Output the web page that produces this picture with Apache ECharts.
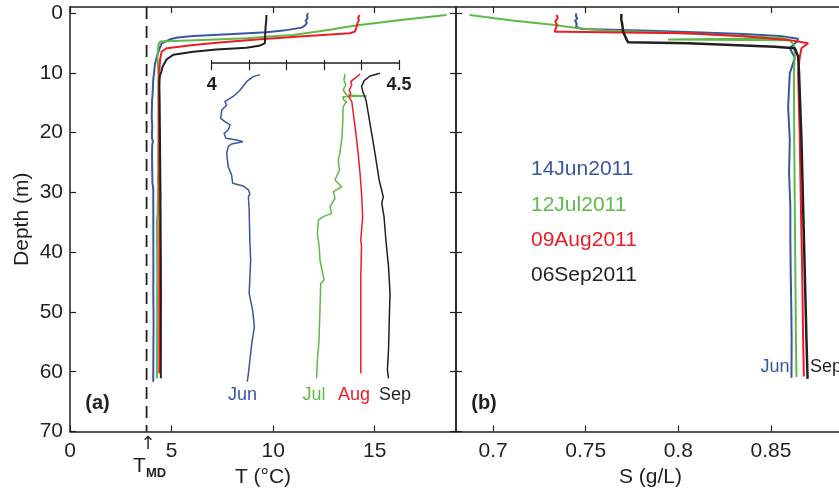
<!DOCTYPE html>
<html>
<head>
<meta charset="utf-8">
<script src="https://cdn.jsdelivr.net/npm/echarts@6/dist/echarts.min.js"></script>
<style>
  html, body { margin: 0; padding: 0; background: #fff; }
  #chart { width: 839px; height: 488px; }
</style>
</head>
<body>
<div id="chart"></div>
<script>
// ---- Profile data: [temperature or salinity, depth (m)] ----
const dates = ['14Jun2011', '12Jul2011', '09Aug2011', '06Sep2011'];
const months = ['Jun', 'Jul', 'Aug', 'Sep'];

// temperature of maximum density (°C)
const TMD = 3.77;

// temperature, surface layer (0-10 m)
const junTempTop = [[11.72,0.05],[11.66,0.45],[11.70,0.85],[11.60,1.25],[11.66,1.65],[11.58,2.05],[11.40,2.45],[10.5,2.95],[9.67,3.23],[7.8,3.55],[6.07,3.84],[5.3,4.1],[4.92,4.4],[4.51,5.07],[4.40,6.0],[4.28,7.2],[4.18,8.6]];
const julTempTop = [[18.53,0.33],[16.5,1.1],[14.26,2.0],[13.5,2.4],[12.95,2.73],[12.2,3.1],[10.98,3.68],[9.8,3.95],[8.69,4.23],[6.5,4.5],[4.43,4.79],[4.35,5.35],[4.30,7.3],[4.33,8.9]];
const augTempTop = [[14.26,0.33],[14.18,0.8],[14.22,1.2],[14.15,1.7],[14.10,2.4],[14.02,3.12],[13.77,3.4],[11.5,3.9],[9.35,4.4],[7.5,4.9],[6.07,5.35],[4.76,5.9],[4.51,6.46],[4.43,7.85],[4.40,9.5]];
const sepTempTop = [[9.67,0.33],[9.66,1.2],[9.63,2.2],[9.61,3.3],[9.60,4.3],[9.59,5.07],[9.3,5.5],[8.69,5.8],[7.2,6.1],[6.07,6.47],[5.08,7.0],[4.76,7.74],[4.56,8.97],[4.50,9.8]];

// temperature, deep layer (10 m to bottom)
const junTempDeep = [[4.129,10.31],[4.111,10.65],[4.093,11.49],[4.076,12.88],[4.062,13.72],[4.049,14.27],[4.035,14.83],[4.031,15.11],[4.040,15.39],[4.027,16.22],[4.024,17.62],[4.035,18.18],[4.049,18.73],[4.044,19.57],[4.033,20.13],[4.038,20.96],[4.067,21.24],[4.083,21.52],[4.053,21.91],[4.044,22.36],[4.040,23.47],[4.044,25.70],[4.053,27.09],[4.056,28.49],[4.084,28.93],[4.098,29.60],[4.102,30.27],[4.098,30.72],[4.100,32.95],[4.102,38.52],[4.104,41.3],[4.102,44.10],[4.100,46.9],[4.109,49.67],[4.114,52.46],[4.107,55.25],[4.102,58.04],[4.098,60.27],[4.095,61.66]];
const julTempDeep = [[4.356,10.21],[4.353,11.21],[4.358,12.05],[4.351,12.88],[4.360,13.72],[4.414,13.88],[4.350,14.00],[4.353,14.56],[4.360,14.83],[4.351,15.67],[4.350,17.90],[4.348,20.69],[4.342,23.48],[4.338,24.59],[4.341,26.26],[4.329,27.93],[4.347,29.05],[4.325,29.88],[4.329,31.00],[4.316,32.39],[4.320,33.51],[4.298,34.07],[4.285,34.62],[4.282,36.85],[4.287,39.09],[4.289,41.32],[4.300,44.66],[4.291,45.22],[4.289,49.68],[4.286,55.26],[4.282,58.04],[4.280,61.11]];
const augTempDeep = [[4.396,10.21],[4.382,10.93],[4.371,11.49],[4.374,12.05],[4.367,12.88],[4.371,13.44],[4.367,14.11],[4.374,14.83],[4.378,16.79],[4.385,20.13],[4.391,23.48],[4.396,26.82],[4.400,30.16],[4.403,34.07],[4.398,37.97],[4.400,39.08],[4.398,44.10],[4.398,52.46],[4.398,60.27]];
const sepTempDeep = [[4.449,10.09],[4.423,10.54],[4.407,11.32],[4.400,12.32],[4.405,13.44],[4.412,14.56],[4.418,16.79],[4.427,20.13],[4.436,23.48],[4.447,27.93],[4.458,30.72],[4.454,31.84],[4.460,34.07],[4.465,37.97],[4.472,42.43],[4.476,46.89],[4.474,51.35],[4.472,56.37],[4.469,59.71],[4.472,61.11]];

// salinity (g/L)
const junSal = [[0.7450,0.05],[0.7447,0.5],[0.7455,0.9],[0.7443,1.3],[0.7452,1.8],[0.7448,2.28],[0.7477,2.67],[0.7800,2.95],[0.8089,3.23],[0.8350,3.5],[0.8548,3.84],[0.8647,4.3],[0.8640,4.79],[0.8602,5.9],[0.8629,7.5],[0.8602,10.1],[0.8593,15.7],[0.8602,21.2],[0.8598,26.8],[0.8605,32.4],[0.8605,38.0],[0.8607,43.5],[0.8610,49.1],[0.8612,54.7],[0.8611,61.0]];
const julSal = [[0.6874,0.33],[0.7009,0.89],[0.7117,1.28],[0.7333,2.0],[0.7459,2.56],[0.7603,2.95],[0.7950,3.3],[0.8300,3.75],[0.8593,4.23],[0.7945,4.45],[0.8600,4.55],[0.8625,5.3],[0.8629,7.0],[0.8624,10.1],[0.8626,21.2],[0.8629,32.4],[0.8632,43.5],[0.8635,54.7],[0.8638,60.9]];
const augSal = [[0.7342,0.33],[0.7350,0.8],[0.7336,1.4],[0.7345,2.0],[0.7333,3.12],[0.7387,3.12],[0.7700,3.25],[0.8053,3.4],[0.8350,3.9],[0.8593,4.5],[0.8701,5.07],[0.8665,5.9],[0.8655,7.5],[0.8647,10.1],[0.8656,21.2],[0.8662,32.4],[0.8669,43.5],[0.8674,54.7],[0.8678,60.8]];
const sepSal = [[0.7693,0.17],[0.7692,1.0],[0.7698,2.0],[0.7702,3.12],[0.7722,4.52],[0.7730,4.9],[0.8053,5.07],[0.8521,5.63],[0.8629,5.9],[0.8647,7.3],[0.8652,10.1],[0.8665,21.2],[0.8674,32.4],[0.8683,43.5],[0.8692,54.7],[0.8698,61.2]];

// axis ticks
const depthTicks = [0, 10, 20, 30, 40, 50, 60, 70];
const tempTicks = [0, 5, 10, 15];
const salTicks = [0.7, 0.75, 0.8, 0.85];
const insetTicks = [4, 4.1, 4.2, 4.3, 4.4, 4.5];
const insetLabels = [4, 4.5];

// ---- drawing ----
const colors = ['#3a55a4', '#5eb946', '#ed1c24', '#231f20'];
const ink = '#231f20';
const FONT = '"Liberation Sans", Arial, Helvetica, sans-serif';

const tempTop = [junTempTop, julTempTop, augTempTop, sepTempTop];
const tempDeep = [junTempDeep, julTempDeep, augTempDeep, sepTempDeep];
const sal = [junSal, julSal, augSal, sepSal];

// plot frame geometry
const plotTop = 7, plotBottom = 431.5, yMin = -1, yMax = 70;
const insetTop = 63;
const insetYMin = yMin + (insetTop - plotTop) / (plotBottom - plotTop) * (yMax - yMin);

function axis(extra, ticks, labels, labelOpts) {
  return Object.assign({
    type: 'value',
    splitLine: { show: false },
    axisLine: { show: true, onZero: false, lineStyle: { color: ink, width: 1.5 } },
    axisTick: { show: true, inside: true, length: 6, customValues: ticks, lineStyle: { color: ink, width: 1.2 } },
    axisLabel: labels ? Object.assign({
      show: true, customValues: labels, color: ink, fontSize: 21, fontFamily: FONT
    }, labelOpts || {}) : { show: false }
  }, extra);
}

const grids = [
  { left: 70, top: plotTop, width: 386, height: plotBottom - plotTop },
  { left: 456, top: plotTop, width: 389, height: plotBottom - plotTop },
  { left: 211.7, top: insetTop, width: 187.3, height: plotBottom - insetTop }
].map(g => Object.assign({ containLabel: false, outerBoundsMode: 'none', show: false }, g));

const xAxes = [
  axis({ gridIndex: 0, position: 'bottom', min: 0, max: 19,
         name: 'T (°C)', nameLocation: 'middle', nameGap: 30,
         nameTextStyle: { color: ink, fontSize: 21, fontFamily: FONT } },
       tempTicks, tempTicks, { margin: 9 }),
  axis({ gridIndex: 0, position: 'top', min: 0, max: 19 }, tempTicks, null),
  axis({ gridIndex: 1, position: 'bottom', min: 0.68, max: 0.89,
         name: 'S (g/L)', nameLocation: 'middle', nameGap: 30,
         nameTextStyle: { color: ink, fontSize: 21, fontFamily: FONT } },
       salTicks, salTicks, { margin: 9 }),
  axis({ gridIndex: 1, position: 'top', min: 0.68, max: 0.89 }, salTicks, null),
  // inset temperature axis with labels under the line
  axis({ gridIndex: 2, position: 'top', min: 4, max: 4.5 }, insetTicks, insetLabels,
       { inside: true, margin: 13, fontSize: 18, fontWeight: 'bold' }),
  // short upward tick stubs of the inset axis
  axis({ gridIndex: 2, position: 'bottom', min: 4, max: 4.5, offset: -(plotBottom - insetTop),
         axisLine: { show: false } }, insetTicks, null)
];
xAxes[4].axisTick.length = 7;
xAxes[5].axisTick.length = 3;

const yAxes = [
  axis({ gridIndex: 0, position: 'left', inverse: true, min: yMin, max: yMax,
         name: 'Depth (m)', nameLocation: 'middle', nameGap: 37, nameRotate: 90,
         nameTextStyle: { color: ink, fontSize: 21, fontFamily: FONT } },
       depthTicks, depthTicks, { margin: 7 }),
  axis({ gridIndex: 0, position: 'right', inverse: true, min: yMin, max: yMax }, depthTicks, null),
  axis({ gridIndex: 1, position: 'left', inverse: true, min: yMin, max: yMax }, depthTicks, null),
  axis({ gridIndex: 1, position: 'right', inverse: true, min: yMin, max: yMax }, depthTicks, null),
  { type: 'value', gridIndex: 2, inverse: true, min: insetYMin, max: yMax, show: false }
];

const series = [];
// T_MD reference line
series.push({
  type: 'line', xAxisIndex: 0, yAxisIndex: 0, symbol: 'none', silent: true,
  data: [[TMD, yMin], [TMD, yMax]],
  lineStyle: { color: ink, width: 1.8, type: [12, 7] }
});
dates.forEach((name, i) => {
  series.push({
    name, type: 'line', xAxisIndex: 0, yAxisIndex: 0, symbol: 'none',
    data: tempTop[i].concat(tempDeep[i]),
    lineStyle: { color: colors[i], width: 2 }
  });
});
dates.forEach((name, i) => {
  series.push({
    name, type: 'line', xAxisIndex: 4, yAxisIndex: 4, symbol: 'none',
    data: tempDeep[i],
    lineStyle: { color: colors[i], width: 1.5 }
  });
});
dates.forEach((name, i) => {
  series.push({
    name, type: 'line', xAxisIndex: 2, yAxisIndex: 2, symbol: 'none',
    data: sal[i],
    lineStyle: { color: colors[i], width: i === 3 ? 2.5 : 2 }
  });
});

function txt(text, x, y, opts) {
  return {
    type: 'text', x, y, silent: true,
    style: Object.assign({
      text, fill: ink, fontSize: 21, fontFamily: FONT,
      align: 'center', verticalAlign: 'middle',
      textAlign: 'center', textVerticalAlign: 'middle'
    }, opts || {})
  };
}

const graphics = [
  txt('(a)', 97.5, 403, { fontSize: 20, fontWeight: 'bold' }),
  txt('(b)', 484, 403, { fontSize: 20, fontWeight: 'bold' }),
  txt('\u2191', 148, 444, { fontSize: 18, fontFamily: '"DejaVu Sans", ' + FONT }),
  txt('T', 133, 466, { align: 'left', textAlign: 'left' }),
  txt('MD', 146, 473, { fontSize: 13, fontWeight: 'bold', align: 'left', textAlign: 'left' })
];
// month tags under the profiles
const leftTagX = [242.5, 314, 354, 395];
months.forEach((m, i) => graphics.push(txt(m, leftTagX[i], 395, { fontSize: 18, fill: colors[i] })));
graphics.push(txt(months[0], 775, 367, { fontSize: 18, fill: colors[0] }));
graphics.push(txt(months[3], 810, 367, { fontSize: 18, fill: colors[3], align: 'left', textAlign: 'left' }));
// cast dates
const dateY = [169, 205, 240, 275];
dates.forEach((d, i) => graphics.push(txt(d, 531, dateY[i], { fill: colors[i], align: 'left', textAlign: 'left' })));

const chart = echarts.init(document.getElementById('chart'), null, { renderer: 'canvas' });
chart.setOption({
  animation: false,
  backgroundColor: '#fff',
  grid: grids,
  xAxis: xAxes,
  yAxis: yAxes,
  series,
  graphic: graphics
});
</script>
</body>
</html>
